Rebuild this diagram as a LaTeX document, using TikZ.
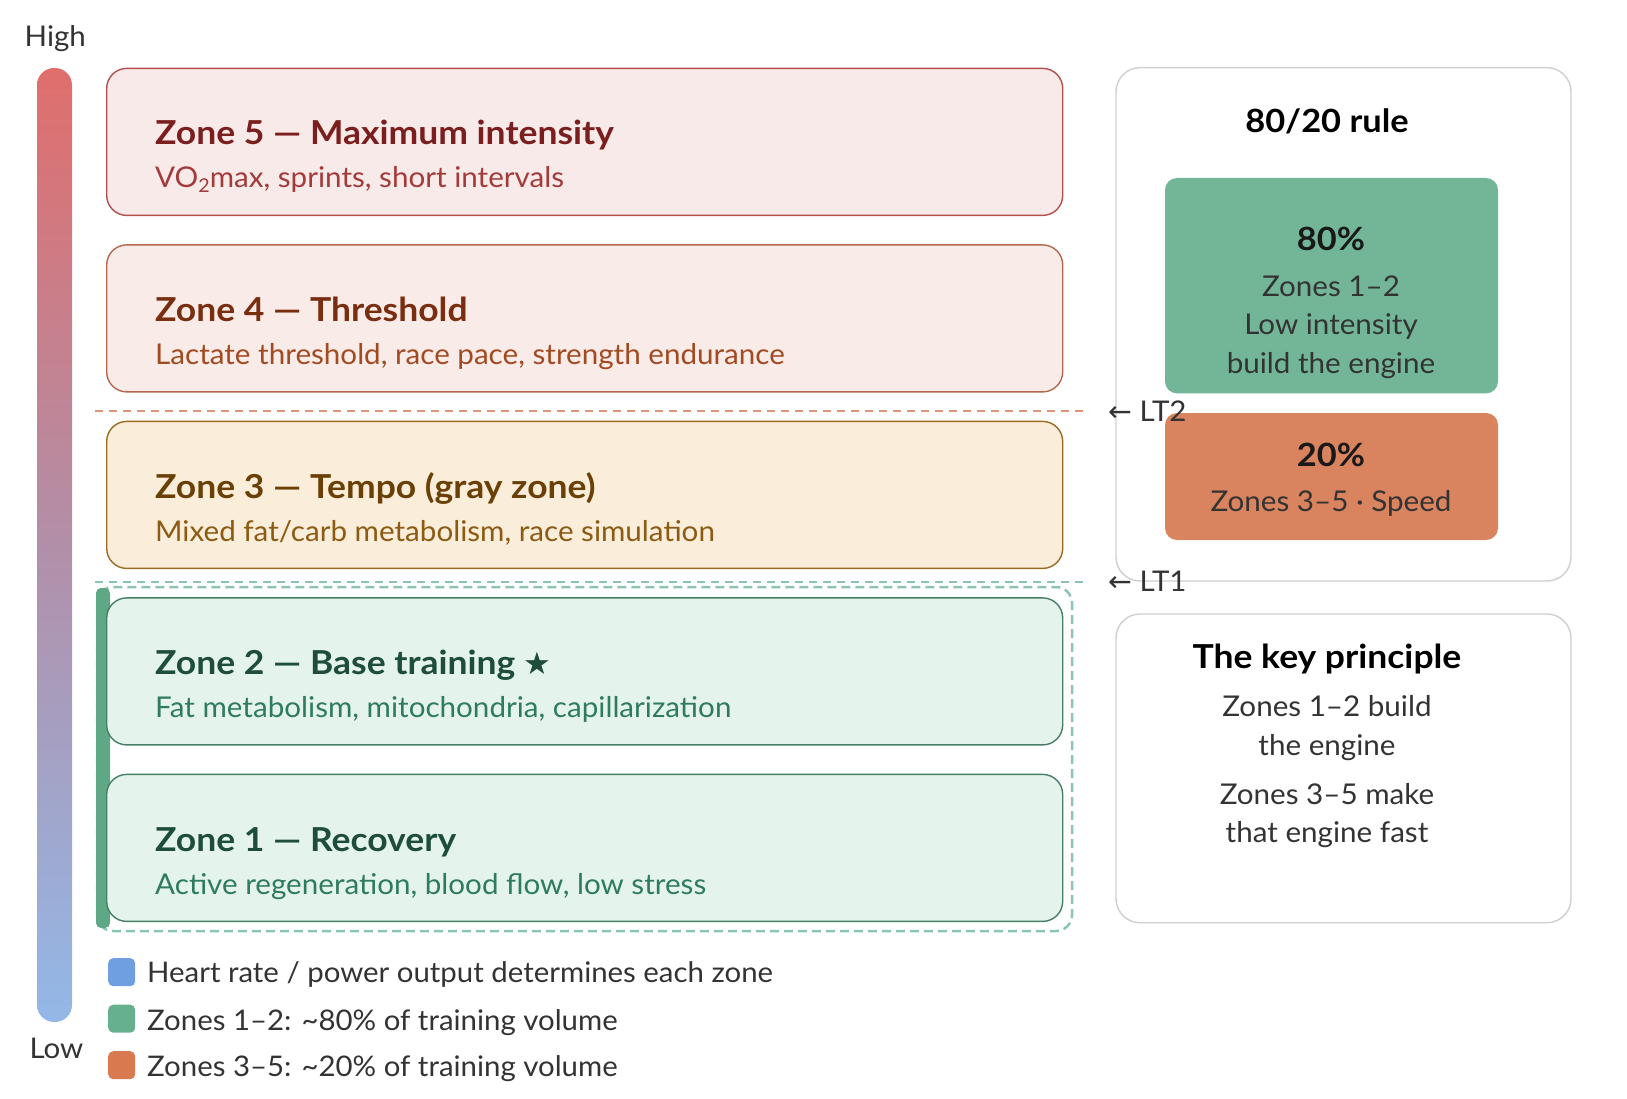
\documentclass[tikz,border=0pt]{standalone}
\usepackage{fontspec}
\setmainfont{Lato}[UprightFeatures={FakeStretch=1.035}, BoldFeatures={FakeStretch=1.075}]
\newfontfamily\symfont{DejaVu Sans}
\usetikzlibrary{positioning}
\definecolor{zfiveF}{HTML}{F9EAEA}\definecolor{zfiveD}{HTML}{B3504D}\definecolor{zfiveT}{HTML}{7A1E1E}\definecolor{zfiveS}{HTML}{A33B3B}
\definecolor{zfourF}{HTML}{F9ECE8}\definecolor{zfourD}{HTML}{B5674D}\definecolor{zfourT}{HTML}{7A2E10}\definecolor{zfourS}{HTML}{A24A22}
\definecolor{zthreeF}{HTML}{FAEEDA}\definecolor{zthreeD}{HTML}{9A6A22}\definecolor{zthreeT}{HTML}{6A4006}\definecolor{zthreeS}{HTML}{8C5A12}
\definecolor{zgreenF}{HTML}{E4F4EC}\definecolor{zgreenD}{HTML}{467F66}\definecolor{zgreenT}{HTML}{1E4D3C}\definecolor{zgreenS}{HTML}{2E7B5D}
\definecolor{barTop}{HTML}{E06E6C}\definecolor{barMid}{HTML}{B28FA8}\definecolor{barBot}{HTML}{93B8E8}
\definecolor{ltorange}{HTML}{DE9478}\definecolor{ltgreen}{HTML}{8CC5AE}
\definecolor{gbar}{HTML}{5FA886}
\definecolor{boxgreen}{HTML}{72B697}\definecolor{boxorange}{HTML}{D9835F}
\definecolor{panelD}{HTML}{CFCFCF}
\definecolor{txt}{HTML}{333333}
\definecolor{legblue}{HTML}{6F9FE0}\definecolor{leggreen}{HTML}{67B08E}\definecolor{legorange}{HTML}{D9794F}
\tikzset{
  zonebox/.style={draw, rounded corners=20pt, line width=1.4pt, minimum width=956pt, minimum height=147pt, anchor=north west, inner sep=0pt},
  ztitle/.style={anchor=base west, inner sep=0pt, font=\fontsize{33}{40}\selectfont\bfseries},
  zsub/.style={anchor=base west, inner sep=0pt, font=\fontsize{28.6}{34}\selectfont},
  panel/.style={draw=panelD, line width=1.4pt, rounded corners=24pt, fill=white},
  ptitle/.style={anchor=base, inner sep=0pt, font=\fontsize{32}{38}\selectfont\bfseries, text=black},
  ptext/.style={anchor=base, inner sep=0pt, font=\fontsize{28.6}{34}\selectfont, text=txt},
  pct/.style={anchor=base, inner sep=0pt, font=\fontsize{32}{38}\selectfont\bfseries, text=black!90},
  sidelabel/.style={anchor=base west, inner sep=0pt, font=\fontsize{28.5}{34}\selectfont, text=txt},
  legsq/.style={rounded corners=5pt, minimum width=27pt, minimum height=28pt, inner sep=0pt, anchor=north west},
  legtext/.style={anchor=base west, inner sep=0pt, font=\fontsize{28.4}{34}\selectfont, text=txt},
  ltline/.style={line width=2pt, dash pattern=on 8pt off 6pt},
}
\newcommand{\subtwo}{{\fontsize{19}{19}\selectfont\raisebox{-5pt}{2}}}
\begin{document}
\begin{tikzpicture}[x=1pt,y=-1pt]
\useasboundingbox (0,0) rectangle (1627,1099);
% intensity bar
\shade[top color=barTop, bottom color=barBot, middle color=barMid, rounded corners=17pt] (37,68) rectangle (72,1022);
\node[sidelabel] (high) at (24.5,46.7) {High};
\node[sidelabel] (low) at (29.3,1058) {Low};
% threshold lines
\coordinate (lt2a) at (95,410.7); \coordinate (lt2b) at (1089,410.7);
\coordinate (lt1a) at (95,582); \coordinate (lt1b) at (1089,582);
\draw[ltline, ltorange] (lt2a) -- (lt2b);
\draw[ltline, ltgreen] (lt1a) -- (lt1b);
% group of zones 1-2
\draw[ltgreen, line width=2.5pt, dash pattern=on 9pt off 5pt, rounded corners=16pt] (97,587) rectangle (1072,931);
\fill[gbar, rounded corners=5pt] (96,588) rectangle (110,928);
% zone boxes
\node[zonebox, fill=zfiveF, draw=zfiveD] (z5) at (106,67.7) {};
\node[zonebox, fill=zfourF, draw=zfourD] (z4) at (106,244.2) {};
\node[zonebox, fill=zthreeF, draw=zthreeD] (z3) at (106,420.7) {};
\node[zonebox, fill=zgreenF, draw=zgreenD] (z2) at (106,597.2) {};
\node[zonebox, fill=zgreenF, draw=zgreenD] (z1) at (106,773.7) {};
\node[ztitle, text=zfiveT] (t5) at (155,145) {Zone 5 — Maximum intensity};
\node[zsub, text=zfiveS] (s5) at (155,188) {VO\subtwo max, sprints, short intervals};
\node[ztitle, text=zfourT] (t4) at (155,321.5) {Zone 4 — Threshold};
\node[zsub, text=zfourS] (s4) at (155,364.5) {Lactate threshold, race pace, strength endurance};
\node[ztitle, text=zthreeT] (t3) at (155,498) {Zone 3 — Tempo (gray zone)};
\node[zsub, text=zthreeS] (s3) at (155,541) {Mixed fat/carb metabolism, race simulation};
\node[ztitle, text=zgreenT] (t2) at (155,674.5) {Zone 2 — Base training {\symfont\fontsize{31}{34}\selectfont ★}};
\node[zsub, text=zgreenS] (s2) at (155,717.5) {Fat metabolism, mitochondria, capillarization};
\node[ztitle, text=zgreenT] (t1) at (155,851) {Zone 1 — Recovery};
\node[zsub, text=zgreenS] (s1) at (155,894) {Active regeneration, blood flow, low stress};
% right panel 1
\draw[panel] (1116,67.7) rectangle (1571,581);
\node[ptitle] (rule) at (1327,133) {80/20 rule};
\fill[boxgreen, rounded corners=12pt] (1165,178) rectangle (1498,393.4);
\fill[boxorange, rounded corners=12pt] (1165,413) rectangle (1498,540);
\node[pct] (p80) at (1331,250.7) {80\%};
\node[ptext] (g1) at (1331,296.6) {Zones 1–2};
\node[ptext] (g2) at (1331,334.9) {Low intensity};
\node[ptext] (g3) at (1331,373) {build the engine};
\node[pct] (p20) at (1331,466) {20\%};
\node[ptext] (o1) at (1331,511) {Zones 3–5 · Speed};
% side labels
\node[sidelabel] (lab2) at (1108,421) {{\symfont ←} LT2};
\node[sidelabel] (lab1) at (1108,591.7) {{\symfont ←} LT1};
% right panel 2
\draw[panel] (1116,614) rectangle (1571,922.7);
\node[ptitle, font=\fontsize{33}{40}\selectfont\bfseries] (key) at (1327,668) {The key principle};
\node[ptext] (k1) at (1327,716.7) {Zones 1–2 build};
\node[ptext] (k2) at (1327,755) {the engine};
\node[ptext] (k3) at (1327,804) {Zones 3–5 make};
\node[ptext] (k4) at (1327,842.7) {that engine fast};
% legend
\node[legsq, fill=legblue] (lb) at (108,958) {};
\node[legsq, fill=leggreen] (lg) at (108,1004.5) {};
\node[legsq, fill=legorange] (lo) at (108,1051) {};
\node[legtext] (tb) at (147,982.7) {Heart rate / power output determines each zone};
\node[legtext] (tg) at (147,1030) {Zones 1–2: \textasciitilde 80\% of training volume};
\node[legtext] (to) at (147,1076) {Zones 3–5: \textasciitilde 20\% of training volume};
\end{tikzpicture}
\end{document}
